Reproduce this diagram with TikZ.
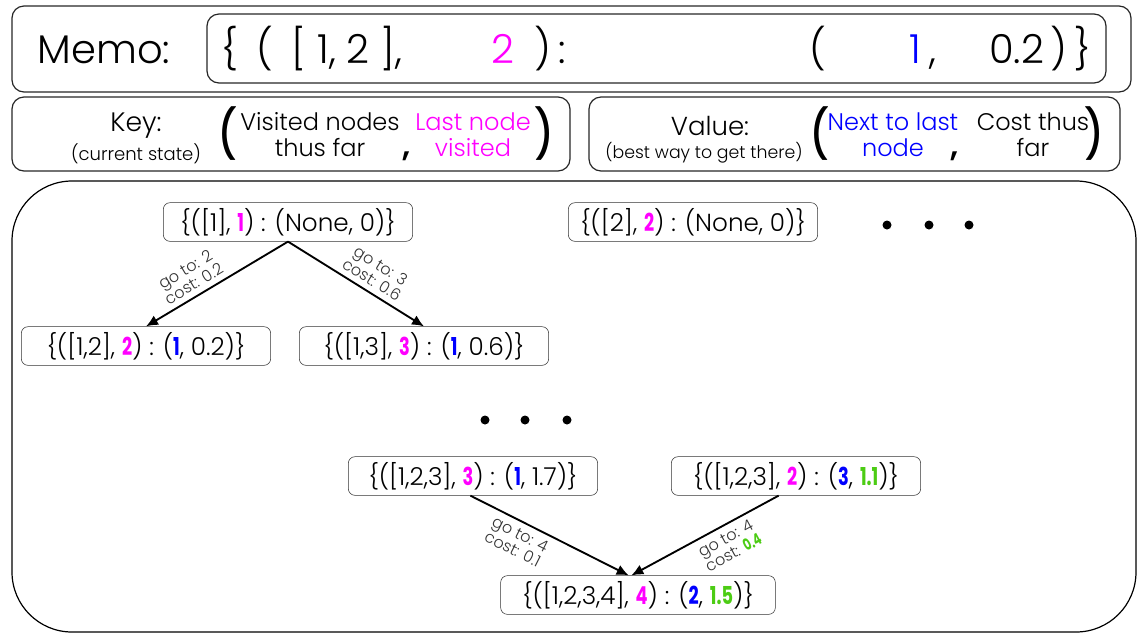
\documentclass[tikz,border=0pt]{standalone}
\usepackage{fontspec}
\setmainfont{Poppins}[UprightFont=* Light, BoldFont=* SemiBold]
\newfontfamily\heavy{Poppins}[UprightFont=* Bold, FakeStretch=0.72]
\newfontfamily\parfont{Poppins}[UprightFont=* Medium, FakeStretch=0.85]
\usepackage{xcolor}
\usetikzlibrary{arrows.meta, positioning}
\definecolor{lastnode}{RGB}{255,0,255}
\definecolor{prevnode}{RGB}{0,0,255}
\definecolor{bestcost}{RGB}{76,204,20}
\newcommand{\lastn}[1]{{\heavy\color{lastnode}#1}}
\newcommand{\prevn}[1]{{\heavy\color{prevnode}#1}}
\newcommand{\costn}[1]{{\heavy\color{bestcost}#1}}
\newcommand{\fs}[1]{\fontsize{#1}{#1}\selectfont}

\begin{document}
\begin{tikzpicture}[x=0.75pt, y=-0.75pt,
    state/.style={draw=black!80, rounded corners=5pt, minimum width=187pt, minimum height=29pt, inner sep=0pt, font=\fs{18.5}},
    move/.style={-{Latex[length=9pt,width=8pt]}, line width=1.4pt},
    edgelbl/.style={sloped, font=\fontsize{12}{12.5}\selectfont, text=black!80, align=center, inner sep=4pt},
    memotext/.style={anchor=base, font=\fs{30}},
    keytext/.style={font=\fontsize{18}{19.5}\selectfont, align=center},
    bigparen/.style={font=\parfont\fs{36}},
    bigcomma/.style={anchor=base, font=\bfseries\fs{24}},
    panel/.style={draw=black!85, line width=0.9pt, rounded corners=9pt}]
    \useasboundingbox (0,0) rectangle (1142,637);

    % Memo
    \draw[panel] (12,6) rectangle (1131,92);
    \draw[panel] (207,14) rectangle (1106,83);
    \node[memotext] (memo) at (104,63) {Memo:};
    \node[memotext] (mbrace) at (230,63) {\{};
    \node[memotext] (mparen) at (265,63) {(};
    \node[memotext] (mvisited) at (347,63) {[\ 1,\ 2\ ],};
    \node[memotext, text=lastnode] (mlast) at (503,63) {2};
    \node[memotext] (mclose) at (550,63) {)\,:};
    \node[memotext] (vparen) at (818,63) {(};
    \node[memotext, text=prevnode] (mprev) at (915,63) {1};
    \node[memotext] (mcomma) at (933,63) {,};
    \node[memotext] (mcost) at (1040,63) {0.2\,)\,\}};

    % Key
    \draw[panel] (12,97) rectangle (570,171);
    \node[font=\fs{20}] (key) at (136,126) {Key:};
    \node[font=\fs{13.5}] (keysub) at (136,154) {(current state)};
    \node[bigparen] (kopen) at (228,134) {(};
    \node[keytext] (kvisited) at (320,135) {Visited nodes\\thus far};
    \node[bigcomma] (kcomma) at (407,156) {,};
    \node[keytext, text=lastnode] (klast) at (473,135) {Last node\\visited};
    \node[bigparen] (kclose) at (545,134) {)};

    % Value
    \draw[panel] (589,97) rectangle (1120,171);
    \node[font=\fs{19.5}] (value) at (710,126) {Value:};
    \node[font=\fs{13}] (valuesub) at (704,153) {(best way to get there)};
    \node[bigparen] (vopen) at (820,134) {(};
    \node[keytext, text=prevnode] (vprev) at (893,135) {Next to last\\node};
    \node[bigcomma] (vcomma) at (955,156) {,};
    \node[keytext] (vcost) at (1033,135) {Cost thus\\far};
    \node[bigparen] (vclose) at (1095,134) {)};

    % Search tree
    \draw[line width=0.9pt, rounded corners=45pt] (12,181) rectangle (1136,632);
    \node[state] (s1) at (288,222) {\{([1], \lastn{1}) : (None, 0)\}};
    \node[state] (s2) at (693,222) {\{([2], \lastn{2}) : (None, 0)\}};
    \node[state] (s12) at (146,346) {\{([1,2], \lastn{2}) : (\prevn{1}, 0.2)\}};
    \node[state] (s13) at (424,346) {\{([1,3], \lastn{3}) : (\prevn{1}, 0.6)\}};
    \node[state] (s123a) at (473,476) {\{([1,2,3], \lastn{3}) : (\prevn{1}, 1.7)\}};
    \node[state] (s123b) at (796,476) {\{([1,2,3], \lastn{2}) : (\prevn{3}, \costn{1.1})\}};
    \node[state, minimum width=206pt] (s1234) at (638,595) {\{([1,2,3,4], \lastn{4}) : (\prevn{2}, \costn{1.5})\}};

    \foreach \x in {887,929,969} \fill (\x,225) circle (4.5);
    \foreach \x in {485,525,567} \fill (\x,420) circle (4.5);

    \draw[move] (s1.south) -- (s12.north) node[edgelbl, pos=0.62, above] {go to: 2\\cost: 0.2};
    \draw[move] (s1.south) -- (s13.north) node[edgelbl, pos=0.57, above] {go to: 3\\cost: 0.6};
    \draw[move] ([xshift=-2pt]s123a.south) -- ([xshift=-7pt]s1234.north) node[edgelbl, pos=0.35, below] {go to: 4\\cost: 0.1};
    \draw[move] ([xshift=-13pt]s123b.south) -- ([xshift=-5pt]s1234.north) node[edgelbl, pos=0.4, below] {go to: 4\\cost: \costn{0.4}};
\end{tikzpicture}
\end{document}
